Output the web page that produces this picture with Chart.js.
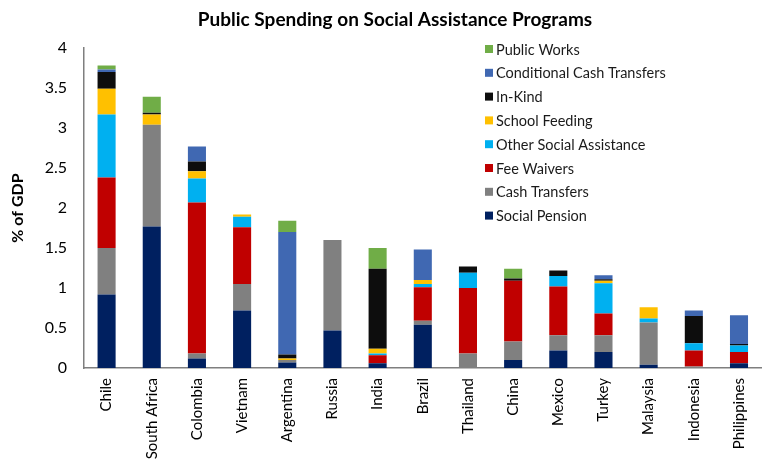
<!DOCTYPE html>
<html>
<head>
<meta charset="utf-8">
<script src="https://cdn.jsdelivr.net/npm/chart.js@4/dist/chart.umd.min.js"></script>
<style>
  html, body { margin: 0; padding: 0; background: #fff; }
  #spendingChart { display: block; }
</style>
</head>
<body>
<canvas id="spendingChart" width="767" height="460"></canvas>
<script>
// countries along the x axis
const countries = ["Chile", "South Africa", "Colombia", "Vietnam", "Argentina", "Russia", "India",
    "Brazil", "Thailand", "China", "Mexico", "Turkey", "Malaysia", "Indonesia", "Philippines"];

// % of GDP by program, stacked bottom to top
const socialPension   = [0.92, 1.77, 0.12, 0.72, 0.07, 0.47, 0.06, 0.54, 0.00, 0.10, 0.22, 0.20, 0.04, 0.00, 0.06];
const cashTransfers   = [0.58, 1.27, 0.06, 0.33, 0.03, 1.13, 0.00, 0.05, 0.18, 0.23, 0.19, 0.21, 0.53, 0.02, 0.00];
const feeWaivers      = [0.88, 0.00, 1.89, 0.71, 0.00, 0.00, 0.10, 0.42, 0.82, 0.76, 0.61, 0.27, 0.00, 0.20, 0.14];
const otherAssistance = [0.79, 0.00, 0.30, 0.13, 0.00, 0.00, 0.02, 0.04, 0.19, 0.00, 0.13, 0.38, 0.05, 0.09, 0.08];
const schoolFeeding   = [0.32, 0.13, 0.09, 0.03, 0.02, 0.00, 0.06, 0.05, 0.00, 0.00, 0.00, 0.03, 0.14, 0.00, 0.00];
const inKind          = [0.21, 0.02, 0.12, 0.00, 0.05, 0.00, 1.00, 0.00, 0.08, 0.03, 0.07, 0.02, 0.00, 0.34, 0.02];
const conditionalCash = [0.03, 0.00, 0.19, 0.00, 1.53, 0.00, 0.00, 0.38, 0.00, 0.00, 0.00, 0.05, 0.00, 0.07, 0.36];
const publicWorks     = [0.05, 0.20, 0.00, 0.00, 0.14, 0.00, 0.26, 0.00, 0.00, 0.12, 0.00, 0.00, 0.00, 0.00, 0.00];

const seriesNames = ["Social Pension", "Cash Transfers", "Fee Waivers", "Other Social Assistance",
    "School Feeding", "In-Kind", "Conditional Cash Transfers", "Public Works"];
const seriesData = [socialPension, cashTransfers, feeWaivers, otherAssistance,
    schoolFeeding, inKind, conditionalCash, publicWorks];
const seriesColors = ["#002060", "#808080", "#C00000", "#00B0F0",
    "#FFC000", "#0D0D0D", "#4068B2", "#70AD47"];

const chartTitle = 'Public Spending on Social Assistance Programs';
const FONT = "Lato, 'Open Sans', sans-serif";

// title is offset to the right of the canvas centre, so it is drawn here
// together with a legend that sits inside the plot (top item = top of the stack)
const titleAndLegend = {
    id: 'titleAndLegend',
    afterDraw(chart) {
        const ctx = chart.ctx;
        ctx.save();
        ctx.fillStyle = '#000';
        ctx.font = "bold 19px " + FONT;
        ctx.textAlign = 'center';
        ctx.textBaseline = 'middle';
        ctx.fillText(chartTitle, 395, 20);

        const x = 485, y0 = 49, step = 23.8;
        ctx.font = "14.5px " + FONT;
        ctx.textAlign = 'left';
        const sets = chart.data.datasets.slice().reverse();
        sets.forEach(function(ds, i) {
            const y = y0 + i * step;
            ctx.fillStyle = ds.backgroundColor;
            ctx.fillRect(x, y - 4, 8, 8);
            ctx.fillStyle = '#1a1a1a';
            ctx.fillText(ds.label, x + 11, y + 1);
        });
        ctx.restore();
    }
};

const datasets = seriesNames.map(function(name, i) {
    return {
        label: name,
        data: seriesData[i],
        backgroundColor: seriesColors[i],
        borderWidth: 0,
        barPercentage: 0.4,
        categoryPercentage: 1.0
    };
});

const context = document.getElementById("spendingChart").getContext("2d");
const spendingChart = new Chart(context, {
    type: 'bar',
    data: { labels: countries, datasets: datasets },
    plugins: [titleAndLegend],
    options: {
        responsive: false,
        animation: false,
        layout: { padding: { left: 0, right: 0, top: 48, bottom: 0 } },
        plugins: {
            legend: { display: false },
            tooltip: { enabled: false },
            title: { display: false }
        },
        scales: {
            x: {
                stacked: true,
                grid: { display: false, drawTicks: false },
                border: { display: true, color: '#7f7f7f', width: 1.5 },
                ticks: {
                    color: '#000',
                    font: { family: FONT, size: 15 },
                    minRotation: 90,
                    maxRotation: 90,
                    padding: 10,
                    autoSkip: false
                },
                afterFit(scale) { scale.height = 92; }
            },
            y: {
                stacked: true,
                min: 0,
                max: 4,
                grid: { display: false, drawTicks: false },
                border: { display: true, color: '#7f7f7f', width: 1.5 },
                ticks: {
                    stepSize: 0.5,
                    color: '#000',
                    font: { family: FONT, size: 16 },
                    padding: 17,
                    callback: function(value) { return String(value); }
                },
                title: {
                    display: true,
                    text: '% of GDP',
                    color: '#000',
                    font: { family: FONT, size: 16, weight: 'bold' },
                    padding: { top: 8, bottom: 4 }
                },
                afterFit(scale) { scale.width = 84; }
            }
        }
    }
});
</script>
</body>
</html>
